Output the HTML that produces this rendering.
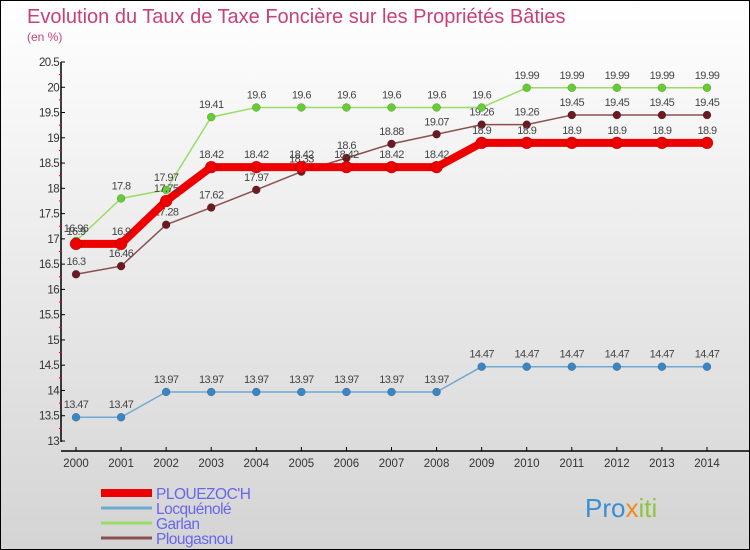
<!DOCTYPE html>
<html><head><meta charset="utf-8"><style>
body{margin:0}
#c{width:750px;height:550px;position:relative;box-sizing:border-box;border:1px solid #000;background:linear-gradient(#fff,#d4d4d4);overflow:hidden;font-family:"Liberation Sans","DejaVu Sans",sans-serif}
svg{position:absolute;left:0;top:0}
</style></head><body>
<div id="c">
<svg id="s" width="750" height="550">
<text x="26" y="22" font-size="20" fill="#c8407a">Evolution du Taux de Taxe Foncière sur les Propriétés Bâties</text>
<text x="26" y="40" font-size="12" fill="#c8407a">(en %)</text>
<text x="584" y="516" font-size="26" fill="#3a8fd0">Pro<tspan fill="#f08a1c">x</tspan><tspan fill="#8cc63f">iti</tspan></text>
</svg>
</div>
<script>
const years=[2000,2001,2002,2003,2004,2005,2006,2007,2008,2009,2010,2011,2012,2013,2014];
const yTicks=[13,13.5,14,14.5,15,15.5,16,16.5,17,17.5,18,18.5,19,19.5,20,20.5];
const plouezoch=[16.9,16.9,17.75,18.42,18.42,18.42,18.42,18.42,18.42,18.9,18.9,18.9,18.9,18.9,18.9];
const locquenole=[13.47,13.47,13.97,13.97,13.97,13.97,13.97,13.97,13.97,14.47,14.47,14.47,14.47,14.47,14.47];
const garlan=[16.96,17.8,17.97,19.41,19.6,19.6,19.6,19.6,19.6,19.6,19.99,19.99,19.99,19.99,19.99];
const plougasnou=[16.3,16.46,17.28,17.62,17.97,18.33,18.6,18.88,19.07,19.26,19.26,19.45,19.45,19.45,19.45];
const names=["PLOUEZOC'H","Locquénolé","Garlan","Plougasnou"];
const NS="http://www.w3.org/2000/svg",s=document.getElementById('s');
const X=i=>75+i*(631/14), Y=v=>440-(v-13)*(379/7.5);
function el(t,a,txt){const e=document.createElementNS(NS,t);for(const k in a)e.setAttribute(k,a[k]);if(txt!=null)e.textContent=txt;s.appendChild(e);return e;}
let ya=el('line',{x1:60,y1:61,x2:60,y2:441,stroke:'#000','stroke-width':1.5});


let xa=el('line',{x1:60,y1:450,x2:750,y2:450,stroke:'#000','stroke-width':1.5});


yTicks.forEach((v,i)=>{
 el('line',{x1:60,y1:Y(v),x2:64,y2:Y(v),stroke:'#000'});
 if(i<yTicks.length-1) el('line',{x1:58,y1:Y(v+0.25),x2:61,y2:Y(v+0.25),stroke:'#e00'});
 const t=el('text',{x:58,y:Y(v)+4,'font-size':11.5,fill:'#333','text-anchor':'end','letter-spacing':'-0.6'},String(v));
 
 
});
years.forEach((y,i)=>{
 el('line',{x1:X(i),y1:446,x2:X(i),y2:450,stroke:'#000'});
 const t=el('text',{x:X(i),y:466,'font-size':11.5,fill:'#333','text-anchor':'middle'},String(y));
 
 
});
function series(d,col,w,r,dot,name){
 const p=el('polyline',{points:d.map((v,i)=>X(i)+','+Y(v)).join(' '),fill:'none',stroke:col,'stroke-width':w,'stroke-linejoin':'round'});
 
 
 d.forEach((v,i)=>{
  const c=el('circle',{cx:X(i),cy:Y(v),r:r,fill:dot,stroke:'rgba(0,0,0,0.3)','stroke-width':0.5});
  
  
  const t=el('text',{x:X(i),y:Y(v)-9,'font-size':11,fill:'#444','text-anchor':'middle','letter-spacing':'-0.6'},String(v));
  
  
 });
}
series(locquenole,'#6fa8d0',1.5,4,'#3a86c4','locquenole');
series(plougasnou,'#8a5050',1.5,4,'#6a1a20','plougasnou');
series(garlan,'#99dd66',1.5,4,'#66cc33','garlan');
series(plouezoch,'#ee0000',8,6,'#ee0000','plouezoch');
const lcols=['#ee0000','#6fa8d0','#99dd66','#8a5050'],lw=[8,3,3,3];
names.forEach((n,i)=>{
 const y=492+i*15;
 const l=el('line',{x1:100,y1:y,x2:151,y2:y,stroke:lcols[i],'stroke-width':lw[i]});
 
 
 const t=el('text',{x:155,y:y+6,'font-size':15.5,fill:'#6666ee','letter-spacing':'-0.5'},n);
 
 
});
</script>
</body></html>
